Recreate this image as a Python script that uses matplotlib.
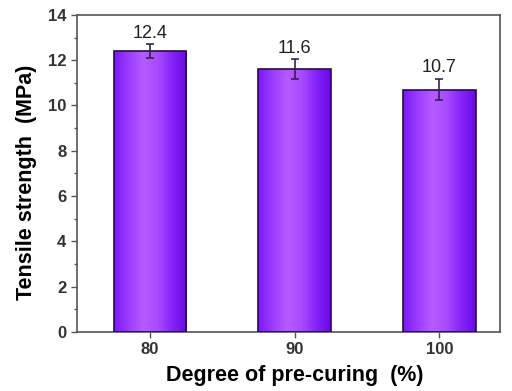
import numpy as np
import matplotlib
matplotlib.use("Agg")
import matplotlib.pyplot as plt
from matplotlib.colors import LinearSegmentedColormap

plt.rcParams['font.family'] = ['Liberation Sans', 'DejaVu Sans']

degrees = [80, 90, 100]
strength = [12.4, 11.6, 10.7]
errors = [0.3, 0.45, 0.48]
tick_labels = ['80', '90', '100']

fig = plt.figure(figsize=(5.12, 3.91), dpi=100)
ax = fig.add_axes([0.150, 0.151, 0.827, 0.811])

bar_w = 5.0
bars = ax.bar(degrees, strength, width=bar_w, color='none',
              edgecolor='#2a0a4a', linewidth=1.2, zorder=3)

# horizontal purple gradient inside each bar
cmap = LinearSegmentedColormap.from_list(
    'purp', ['#7a18f8', '#9a3cff', '#b45cff', '#a84cff', '#8424f8', '#6a08e8'])
grad = np.linspace(0, 1, 256).reshape(1, -1)
for b in bars:
    x0, y0 = b.get_x(), b.get_y()
    w, h = b.get_width(), b.get_height()
    im = ax.imshow(grad, cmap=cmap, aspect='auto',
                   extent=[x0, x0 + w, y0, y0 + h], zorder=2)
    im.set_clip_path(b)

ax.errorbar(degrees, strength, yerr=errors, fmt='none', ecolor='#3a2050',
            elinewidth=1.2, capsize=3, capthick=1.2, zorder=4)

for x, v, e in zip(degrees, strength, errors):
    ax.text(x, v + e + 0.1, f'{v}', ha='center', va='bottom',
            fontsize=13, color='#222222', zorder=5)

ax.set_xlim(74.95, 104.2)
ax.set_ylim(0, 14)
ax.set_xticks(degrees)
ax.set_xticklabels(tick_labels)
ax.set_yticks(np.arange(0, 15, 2))
ax.set_yticks(np.arange(1, 14, 2), minor=True)

for s in ax.spines.values():
    s.set_color('#555555')
    s.set_linewidth(1.2)

ax.tick_params(axis='both', which='major', direction='out', length=4,
               width=1.0, color='#555555', labelsize=12)
ax.tick_params(axis='y', which='minor', direction='out', length=2.5,
               width=1.0, color='#555555')
for lbl in ax.get_xticklabels() + ax.get_yticklabels():
    lbl.set_fontweight('bold')
    lbl.set_color('#333333')

ax.set_xlabel('Degree of pre-curing  (%)', fontsize=15.5, fontweight='bold')
ax.set_ylabel('Tensile strength  (MPa)', fontsize=15.5, fontweight='bold')
ax.xaxis.set_label_coords(0.515, -0.105)
ax.yaxis.set_label_coords(-0.093, 0.473)

fig.savefig('out.png', dpi=100)
